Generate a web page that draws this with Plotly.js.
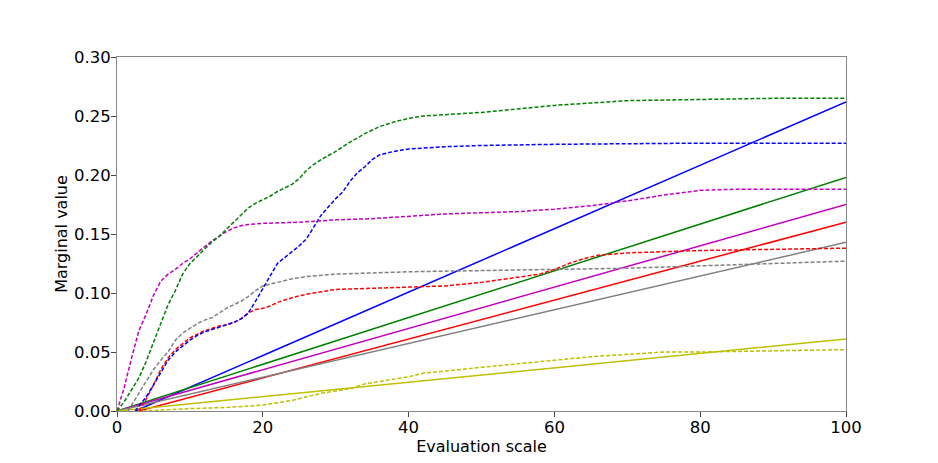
<!DOCTYPE html>
<html>
<head>
<meta charset="utf-8">
<script src="https://cdn.plot.ly/plotly-3.0.1.min.js"></script>
<style>html,body{margin:0;padding:0;background:#fff;}#chart{width:938px;height:463px;}</style>
</head>
<body>
<div id="chart"></div>
<script>
// Dashed curves (x, y)
const greenDashX = [0,1,2,3,4,5,6,7,8,9,10,11,12,13,14,15,16,17,18,19,20,21,22,23,24,25,26,27,28,30,32,34,36,38,40,42,45,50,55,60,65,70,80,90,100];
const greenDashY = [0,0.008,0.018,0.028,0.042,0.058,0.075,0.09,0.102,0.116,0.125,0.131,0.137,0.143,0.148,0.154,0.16,0.166,0.172,0.176,0.179,0.182,0.186,0.189,0.192,0.197,0.204,0.209,0.213,0.220,0.228,0.235,0.241,0.245,0.248,0.250,0.251,0.253,0.256,0.259,0.261,0.263,0.264,0.265,0.265];

const blueDashX = [2.5,4,5,6,7,8,9,10,11,12,13,14,15,16,17,18,19,20,21,22,23,24,25,26,27,28,29,30,31,32,33,34,35,36,38,40,45,50,60,80,100];
const blueDashY = [0,0.012,0.022,0.033,0.043,0.050,0.055,0.060,0.064,0.067,0.069,0.071,0.073,0.075,0.078,0.083,0.093,0.104,0.115,0.125,0.130,0.135,0.140,0.146,0.156,0.166,0.173,0.180,0.186,0.195,0.202,0.207,0.213,0.217,0.220,0.222,0.224,0.225,0.226,0.227,0.227];

const redDashX = [3,4,5,6,7,8,9,10,11,12,13,14,15,16,17,18,19,20,21,22,24,26,28,30,35,40,45,50,55,58,60,62,64,66,70,80,90,100];
const redDashY = [0,0.010,0.022,0.035,0.045,0.052,0.057,0.062,0.065,0.068,0.070,0.072,0.073,0.075,0.078,0.083,0.086,0.087,0.089,0.092,0.096,0.099,0.101,0.103,0.104,0.105,0.106,0.109,0.113,0.116,0.120,0.125,0.129,0.132,0.134,0.136,0.137,0.138];

const magentaDashX = [0,1,2,3,4,5,6,7,8,9,10,11,12,13,14,15,16,17,18,20,25,30,35,40,45,50,55,60,65,70,75,80,85,100];
const magentaDashY = [0,0.020,0.045,0.068,0.082,0.098,0.110,0.116,0.120,0.125,0.129,0.134,0.139,0.144,0.148,0.152,0.155,0.157,0.158,0.159,0.160,0.162,0.163,0.165,0.167,0.168,0.169,0.171,0.174,0.178,0.183,0.187,0.188,0.188];

const grayDashX = [1.5,3,4,5,6,7,8,9,10,11,12,13,14,15,16,17,18,19,20,22,24,26,28,30,35,40,50,60,70,80,90,100];
const grayDashY = [0,0.015,0.025,0.035,0.043,0.050,0.060,0.066,0.070,0.074,0.077,0.079,0.083,0.087,0.090,0.093,0.097,0.102,0.106,0.109,0.112,0.114,0.115,0.116,0.117,0.118,0.119,0.120,0.121,0.123,0.125,0.127];

const yellowDashX = [3.5,6,10,15,20,22,24,26,28,30,32,34,36,38,40,42,45,50,55,60,65,70,75,80,90,100];
const yellowDashY = [0,0.001,0.002,0.003,0.005,0.007,0.009,0.012,0.015,0.017,0.019,0.023,0.025,0.027,0.029,0.032,0.034,0.037,0.040,0.043,0.046,0.048,0.050,0.050,0.051,0.052];

// Solid lines (start, end)
const blueSolidX = [2.5,100];    const blueSolidY = [0,0.262];
const greenSolidX = [0,100];     const greenSolidY = [0,0.198];
const magentaSolidX = [0,100];   const magentaSolidY = [0,0.175];
const redSolidX = [3,100];       const redSolidY = [0,0.160];
const graySolidX = [0,100];      const graySolidY = [0,0.143];
const yellowSolidX = [0,100];    const yellowSolidY = [0,0.061];

const xTicks = [0,20,40,60,80,100];
const yTicks = [0,0.05,0.10,0.15,0.20,0.25,0.30];
const yTickLabels = ['0.00','0.05','0.10','0.15','0.20','0.25','0.30'];

const C = {b:'#0000ff', g:'#008000', r:'#ff0000', m:'#bf00bf', y:'#bfbf00', k:'#808080'};
const dashStyle = '4px,2px';
function tr(x,y,c,dashed){
  return {x:x,y:y,type:'scatter',mode:'lines',hoverinfo:'skip',
    line:{color:c,width:1.5,dash:dashed?dashStyle:'solid'}};
}
const data = [
  tr(blueSolidX,blueSolidY,C.b,false),
  tr(greenSolidX,greenSolidY,C.g,false),
  tr(magentaSolidX,magentaSolidY,C.m,false),
  tr(redSolidX,redSolidY,C.r,false),
  tr(graySolidX,graySolidY,C.k,false),
  tr(yellowSolidX,yellowSolidY,C.y,false),
  tr(yellowDashX,yellowDashY,C.y,true),
  tr(grayDashX,grayDashY,C.k,true),
  tr(redDashX,redDashY,C.r,true),
  tr(blueDashX,blueDashY,C.b,true),
  tr(magentaDashX,magentaDashY,C.m,true),
  tr(greenDashX,greenDashY,C.g,true)
];
const font = {family:'DejaVu Sans, sans-serif', color:'#000'};
const layout = {
  width:938, height:463,
  margin:{l:117, r:92, t:57, b:52},
  paper_bgcolor:'#fff', plot_bgcolor:'#fff',
  showlegend:false,
  font:font,
  xaxis:{range:[0,100], tickvals:xTicks, ticktext:xTicks.map(String),
    showgrid:false, zeroline:false, showline:true, linecolor:'#888', linewidth:1, mirror:true,
    ticks:'outside', ticklen:5, tickcolor:'#444', ticklabelstandoff:-4,
    tickfont:{family:font.family,size:16.5,color:'#000'},
    title:{text:'Evaluation scale', font:{family:font.family,size:16,color:'#000'}, standoff:0}},
  yaxis:{range:[0,0.30], tickvals:yTicks, ticktext:yTickLabels,
    showgrid:false, zeroline:false, showline:true, linecolor:'#888', linewidth:1, mirror:true,
    ticks:'outside', ticklen:5, tickcolor:'#444', ticklabelstandoff:-3,
    tickfont:{family:font.family,size:16.5,color:'#000'},
    title:{text:'Marginal value', font:{family:font.family,size:16,color:'#000'}, standoff:2}}
};
Plotly.newPlot('chart', data, layout, {staticPlot:true, displayModeBar:false});
</script>
</body>
</html>
